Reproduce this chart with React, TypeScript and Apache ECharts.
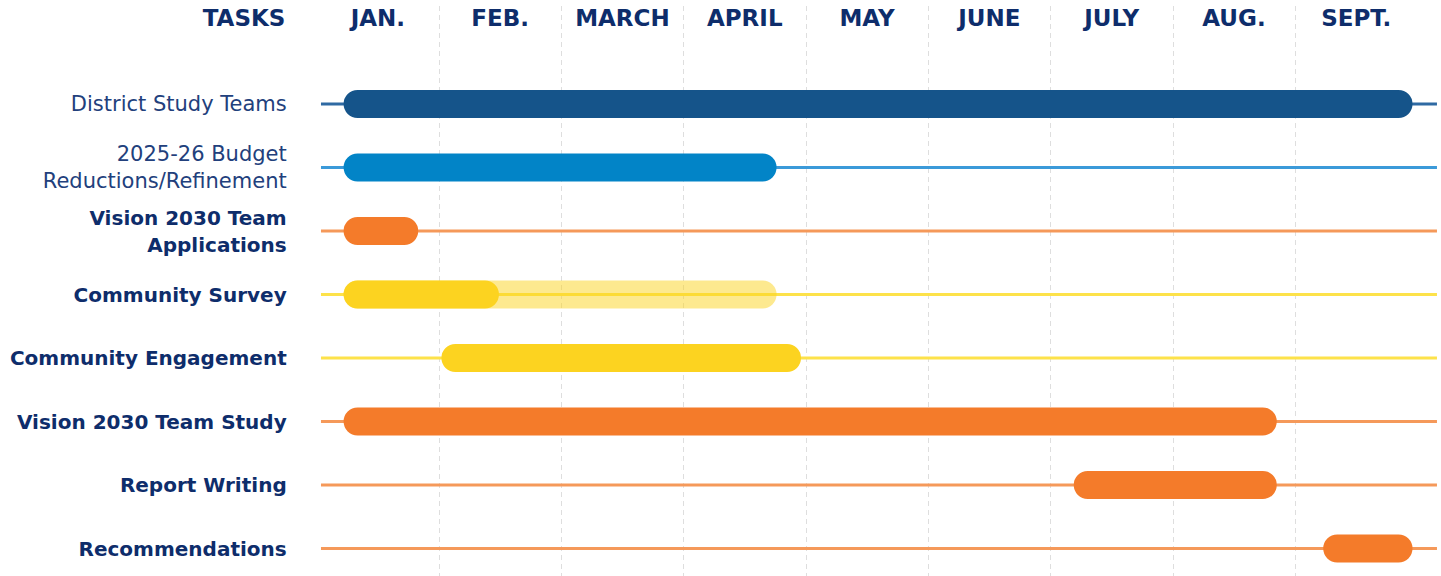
import React, { useEffect, useRef } from "react";
import * as echarts from "echarts";

const months = ["JAN.", "FEB.", "MARCH", "APRIL", "MAY", "JUNE", "JULY", "AUG.", "SEPT."];
const tasks = [
  "District Study Teams",
  "2025-26 Budget\nReductions/Refinement",
  "Vision 2030 Team\nApplications",
  "Community Survey",
  "Community Engagement",
  "Vision 2030 Team Study",
  "Report Writing",
  "Recommendations",
];
const taskBold = [false, false, true, true, true, true, true, true];
// month units: 0 = start of January
const taskStart = [0.22, 0.22, 0.22, 0.22, 1.02, 0.22, 6.19, 8.23];
const taskEnd = [8.96, 3.76, 0.83, 1.49, 3.96, 7.85, 7.85, 8.96];
const surveyPlannedStart = 0.22;
const surveyPlannedEnd = 3.76;
const barColors = ["#15548a", "#0284c7", "#f47b2a", "#fcd320", "#fcd320", "#f47b2a", "#f47b2a", "#f47b2a"];
const lineColors = ["#2f6aa3", "#3b9ad9", "#f5995a", "#fde24a", "#fde24a", "#f5995a", "#f5995a", "#f5995a"];
const lineStart = 0.035;
const lineEnd = 9.16;

const NAVY = "#0e2d6b";
const FONT = "'DejaVu Sans', sans-serif";

export default function App() {
  const ref = useRef<HTMLDivElement>(null);
  useEffect(() => {
    const chart = echarts.init(ref.current!, null, { renderer: "svg" });
    const barH = 28;
    const bars = tasks.map((_, i) => [taskStart[i], taskEnd[i], i]);
    const planned = [[surveyPlannedStart, surveyPlannedEnd, 3]];
    const lines = tasks.map((_, i) => [lineStart, lineEnd, i]);

    const makeBar = (opacity: number) => (params: any, api: any) => {
      const row = api.value(2);
      const p0 = api.coord([api.value(0), row]);
      const p1 = api.coord([api.value(1), row]);
      return {
        type: "rect",
        shape: { x: p0[0], y: p0[1] - barH / 2, width: p1[0] - p0[0], height: barH, r: barH / 2 },
        style: { fill: barColors[row], opacity },
      };
    };

    chart.setOption({
      animation: false,
      grid: [
        { left: 316.7, right: 1441 - 1417.4, top: 6, bottom: 0 },
        { left: 316.7, right: 1441 - (316.7 + 9.17 * 122.3), top: 104, bottom: 576 - 548.5 },
      ],
      xAxis: [
        {
          type: "value",
          gridIndex: 0,
          min: 0,
          max: 9,
          interval: 1,
          axisLabel: { show: false },
          axisLine: { show: false },
          axisTick: { show: false },
          splitLine: {
            show: true,
            showMinLine: false,
            showMaxLine: false,
            lineStyle: { type: [5, 4], color: "#dedede", width: 1 },
          },
        },
        {
          type: "category",
          gridIndex: 0,
          position: "top",
          data: months,
          axisLine: { show: false },
          axisTick: { show: false },
          splitLine: { show: false },
          axisLabel: {
            interval: 0,
            hideOverlap: false,
            inside: true,
            margin: 11.5,
            verticalAlign: "middle",
            color: NAVY,
            fontFamily: FONT,
            fontWeight: "bold",
            fontSize: 23,
          },
        },
        {
          type: "value",
          gridIndex: 1,
          min: 0,
          max: 9.17,
          show: false,
          splitLine: { show: false },
        },
      ],
      yAxis: [
        { type: "value", gridIndex: 0, show: false, splitLine: { show: false } },
        {
          type: "category",
          gridIndex: 1,
          inverse: true,
          boundaryGap: false,
          data: tasks,
          axisLine: { show: false },
          axisTick: { show: false },
          splitLine: { show: false },
          axisLabel: {
            interval: 0,
            margin: 30,
            align: "right",
            formatter: (v: string, i: number) => {
              const tag = taskBold[i] ? "b" : "r";
              return v.split("\n").map((s) => `{${tag}|${s}}`).join("\n");
            },
            rich: {
              r: { fontFamily: FONT, fontSize: 21, fontWeight: "normal", color: "#22407c", lineHeight: 27, align: "right" },
              b: { fontFamily: FONT, fontSize: 20, fontWeight: "bold", color: NAVY, lineHeight: 27, align: "right" },
            },
          },
        },
      ],
      graphic: [
        {
          type: "text",
          x: 244,
          y: 17.5,
          style: {
            text: "TASKS",
            fill: NAVY,
            font: `bold 23px ${FONT}`,
            textAlign: "center",
            textVerticalAlign: "middle",
          },
        },
      ],
      series: [
        {
          type: "custom",
          xAxisIndex: 2,
          yAxisIndex: 1,
          data: lines,
          encode: { x: [0, 1], y: 2 },
          renderItem: (params: any, api: any) => {
            const row = api.value(2);
            const p0 = api.coord([api.value(0), row]);
            const p1 = api.coord([api.value(1), row]);
            return {
              type: "line",
              shape: { x1: p0[0], y1: p0[1], x2: p1[0], y2: p1[1] },
              style: { stroke: lineColors[row], lineWidth: 3 },
            };
          },
        },
        {
          type: "custom",
          xAxisIndex: 2,
          yAxisIndex: 1,
          data: planned,
          encode: { x: [0, 1], y: 2 },
          renderItem: makeBar(0.5),
        },
        {
          type: "custom",
          xAxisIndex: 2,
          yAxisIndex: 1,
          data: bars,
          encode: { x: [0, 1], y: 2 },
          renderItem: makeBar(1),
        },
      ],
    });
    return () => chart.dispose();
  }, []);
  return (
    <div
      ref={ref}
      style={{ position: "fixed", left: 0, top: 0, width: 1441, height: 576, background: "#fff" }}
    />
  );
}
